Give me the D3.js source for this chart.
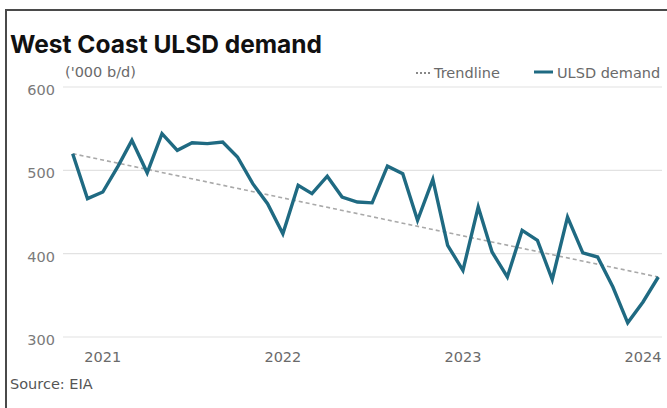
<!DOCTYPE html>
<html>
<head>
<meta charset="utf-8">
<script src="https://cdn.jsdelivr.net/npm/d3@7"></script>
<style>
  html, body { margin: 0; padding: 0; background: #fff; }
  svg { display: block; font-family: "DejaVu Sans", "Noto Sans", sans-serif; }
</style>
</head>
<body>
<svg id="chart" width="667" height="408"></svg>
<script>
// Monthly West Coast ultra-low sulphur diesel demand, Nov 2020 – Feb 2024 ('000 b/d)
const months = [
  "2020-11","2020-12",
  "2021-01","2021-02","2021-03","2021-04","2021-05","2021-06",
  "2021-07","2021-08","2021-09","2021-10","2021-11","2021-12",
  "2022-01","2022-02","2022-03","2022-04","2022-05","2022-06",
  "2022-07","2022-08","2022-09","2022-10","2022-11","2022-12",
  "2023-01","2023-02","2023-03","2023-04","2023-05","2023-06",
  "2023-07","2023-08","2023-09","2023-10","2023-11","2023-12",
  "2024-01","2024-02"
];
const demand = [
  520, 466,
  474, 505, 536, 497, 544, 524,
  533, 532, 534, 516, 484, 460,
  424, 482, 472, 493, 468, 462,
  461, 505, 496, 440, 489, 410,
  380, 456, 402, 372, 428, 416,
  369, 444, 401, 396, 360, 317,
  342, 372
];
// Trendline end points (first and last month)
const trendValues = [520, 372];
const yTicks = [300, 400, 500, 600];
const xTickLabels = ["2021", "2022", "2023", "2024"];

const parse = d3.timeParse("%Y-%m");
const dates = months.map(parse);
const data = dates.map((d, i) => ({ date: d, value: demand[i] }));
const trend = [
  { date: dates[0], value: trendValues[0] },
  { date: dates[dates.length - 1], value: trendValues[1] }
];

const svg = d3.select("#chart");
const labelSize = 14.5;

// Frame
svg.append("path")
  .attr("d", "M6,410 L6,10 L670,10")
  .attr("fill", "none")
  .attr("stroke", "#4a4a4a")
  .attr("stroke-width", 2);

const x = d3.scaleTime()
  .domain([dates[0], dates[dates.length - 1]])
  .range([72.7, 658.3]);
const y = d3.scaleLinear().domain([300, 600]).range([337, 87]);

// Title and unit label
svg.append("text")
  .attr("x", 10).attr("y", 53)
  .attr("font-family", "Inter, sans-serif")
  .attr("font-size", 24.5).attr("font-weight", 700)
  .attr("fill", "#111")
  .text("West Coast ULSD demand");

svg.append("text")
  .attr("x", 65).attr("y", 77)
  .attr("font-size", labelSize).attr("fill", "#6a6a6a")
  .text("('000 b/d)");

// Gridlines
svg.append("g")
  .selectAll("line")
  .data(yTicks)
  .join("line")
  .attr("x1", 63).attr("x2", 662)
  .attr("y1", d => y(d)).attr("y2", d => y(d))
  .attr("stroke", "#e2e2e2").attr("stroke-width", 1.2);

// Y axis labels
svg.append("g")
  .selectAll("text")
  .data(yTicks)
  .join("text")
  .attr("x", 55).attr("y", d => y(d) + 8)
  .attr("text-anchor", "end")
  .attr("font-size", labelSize).attr("fill", "#7a7a7a")
  .text(d => d);

// X axis labels at each January
svg.append("g")
  .selectAll("text")
  .data(xTickLabels)
  .join("text")
  .attr("x", d => x(parse(d + "-01")))
  .attr("y", 362)
  .attr("text-anchor", "middle")
  .attr("font-size", labelSize).attr("fill", "#6a6a6a")
  .text(d => d);

// Trendline
const line = d3.line().x(d => x(d.date)).y(d => y(d.value));
svg.append("path")
  .datum(trend)
  .attr("d", line)
  .attr("fill", "none")
  .attr("stroke", "#a9a9a9")
  .attr("stroke-width", 1.6)
  .attr("stroke-dasharray", "4 3");

// Demand series
svg.append("path")
  .datum(data)
  .attr("d", line)
  .attr("fill", "none")
  .attr("stroke", "#1f6a82")
  .attr("stroke-width", 3.4)
  .attr("stroke-linejoin", "miter");

// Legend
const legend = svg.append("g");
legend.append("line")
  .attr("x1", 416).attr("x2", 430).attr("y1", 73).attr("y2", 73)
  .attr("stroke", "#888").attr("stroke-width", 2)
  .attr("stroke-dasharray", "2 2");
legend.append("text")
  .attr("x", 434).attr("y", 78)
  .attr("font-size", labelSize).attr("fill", "#6a6a6a")
  .text("Trendline");
legend.append("line")
  .attr("x1", 534).attr("x2", 553).attr("y1", 72).attr("y2", 72)
  .attr("stroke", "#1f6a82").attr("stroke-width", 3);
legend.append("text")
  .attr("x", 557).attr("y", 78)
  .attr("font-size", labelSize).attr("fill", "#6a6a6a")
  .text("ULSD demand");

// Source
svg.append("text")
  .attr("x", 10).attr("y", 389)
  .attr("font-size", labelSize).attr("fill", "#555")
  .text("Source: EIA");
</script>
</body>
</html>
